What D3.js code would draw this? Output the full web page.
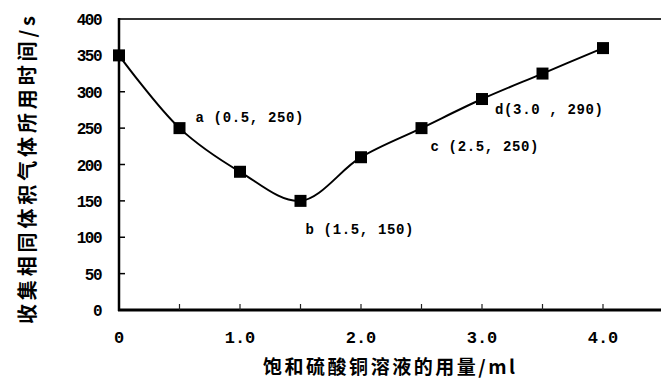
<!DOCTYPE html>
<html lang="zh">
<head>
<meta charset="utf-8">
<title>饱和硫酸铜溶液的用量与收集气体时间</title>
<script src="https://d3js.org/d3.v7.min.js"></script>
<style>
  body { margin: 0; background: #fff; }
  svg { display: block; }
</style>
</head>
<body>
<script>
// data
var volume = [0, 0.5, 1.0, 1.5, 2.0, 2.5, 3.0, 3.5, 4.0];
var seconds = [350, 250, 190, 150, 210, 250, 290, 325, 360];
var yTicks = [0, 50, 100, 150, 200, 250, 300, 350, 400];
var xTicks = [0, 1, 2, 3, 4];
var xMinor = [0.5, 1.5, 2.5, 3.5];
var notes = ["a (0.5, 250)", "b (1.5, 150)", "c (2.5, 250)", "d(3.0 , 290)"];
var noteAt = [[0.5, 250], [1.5, 150], [2.5, 250], [3.0, 290]];

var w = 661, h = 378;
var svg = d3.select("body").append("svg").attr("width", w).attr("height", h);

var x = d3.scaleLinear().domain([0, 4]).range([119, 603]);
var y = d3.scaleLinear().domain([0, 400]).range([310, 19]);

var mono = "'Liberation Mono', 'DejaVu Sans Mono', monospace";
var cjk = "'Noto Sans CJK SC', sans-serif";

// frame: top border, left axis, bottom axis
svg.append("line").attr("x1", x(0)).attr("x2", w + 5).attr("y1", y(400)).attr("y2", y(400))
  .attr("stroke", "#333").attr("stroke-width", 2);
svg.append("line").attr("x1", x(0)).attr("x2", x(0)).attr("y1", y(400) - 1).attr("y2", y(0) + 1)
  .attr("stroke", "#000").attr("stroke-width", 2.5);
svg.append("line").attr("x1", x(0) - 1).attr("x2", w + 5).attr("y1", y(0)).attr("y2", y(0))
  .attr("stroke", "#000").attr("stroke-width", 3);

// y ticks (inside)
svg.selectAll(".ytick").data(yTicks.slice(1, -1)).enter().append("line")
  .attr("x1", x(0)).attr("x2", x(0) + 6)
  .attr("y1", function(d) { return y(d); }).attr("y2", function(d) { return y(d); })
  .attr("stroke", "#000").attr("stroke-width", 1.5);

svg.selectAll(".ylab").data(yTicks).enter().append("text")
  .attr("x", 101).attr("y", function(d) { return y(d) + 6; })
  .attr("text-anchor", "end")
  .attr("font-family", mono).attr("font-weight", "bold").attr("font-size", 16)
  .attr("letter-spacing", -1.5)
  .text(function(d) { return d; });

// x ticks (inside)
svg.selectAll(".xtick").data(xTicks.slice(1).concat(xMinor)).enter().append("line")
  .attr("x1", function(d) { return x(d); }).attr("x2", function(d) { return x(d); })
  .attr("y1", y(0)).attr("y2", y(0) - 6)
  .attr("stroke", "#222").attr("stroke-width", 1.2);

svg.selectAll(".xlab").data(xTicks).enter().append("text")
  .attr("x", function(d) { return x(d); }).attr("y", 343)
  .attr("text-anchor", "middle")
  .attr("font-family", mono).attr("font-weight", "bold").attr("font-size", 17)
  .text(function(d) { return d === 0 ? "0" : d.toFixed(1); });

// axis titles
svg.append("text")
  .attr("transform", "translate(35,170) rotate(-90)")
  .attr("text-anchor", "middle")
  .attr("font-family", cjk).attr("font-weight", "bold").attr("font-size", 20)
  .attr("textLength", 308).attr("lengthAdjust", "spacing")
  .text("收集相同体积气体所用时间/s");

svg.append("text")
  .attr("x", 389).attr("y", 374)
  .attr("text-anchor", "middle")
  .attr("font-family", cjk).attr("font-weight", "bold").attr("font-size", 19)
  .attr("textLength", 252).attr("lengthAdjust", "spacing")
  .text("饱和硫酸铜溶液的用量/ml");

// smooth curve
var pts = volume.map(function(v, i) { return [v, seconds[i]]; });
var line = d3.line()
  .x(function(d) { return x(d[0]); })
  .y(function(d) { return y(d[1]); })
  .curve(d3.curveCatmullRom.alpha(0.5));

svg.append("path").datum(pts).attr("d", line)
  .attr("fill", "none").attr("stroke", "#000").attr("stroke-width", 2);

// square markers
var s = 12;
svg.selectAll(".mk").data(pts).enter().append("rect")
  .attr("x", function(d) { return x(d[0]) - s / 2; })
  .attr("y", function(d) { return y(d[1]) - s / 2; })
  .attr("width", s).attr("height", s).attr("fill", "#000");

// point labels
var offs = [[16, -6], [5, 33], [9, 23], [13, 15]];
svg.selectAll(".note").data(notes).enter().append("text")
  .attr("x", function(d, i) { return x(noteAt[i][0]) + offs[i][0]; })
  .attr("y", function(d, i) { return y(noteAt[i][1]) + offs[i][1]; })
  .attr("font-family", mono).attr("font-weight", "bold").attr("font-size", 14)
  .attr("textLength", 108).attr("lengthAdjust", "spacing")
  .attr("xml:space", "preserve")
  .text(function(d) { return d; });
</script>
</body>
</html>
